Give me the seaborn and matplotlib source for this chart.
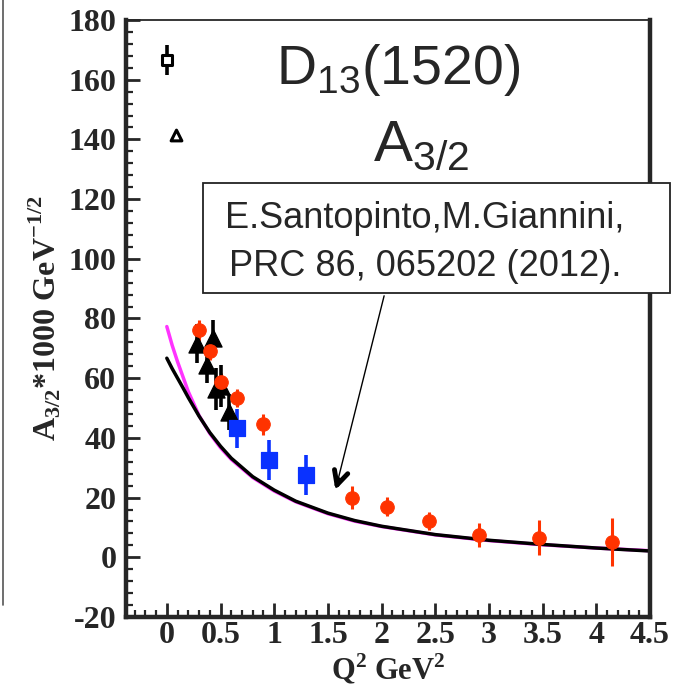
import numpy as np
import pandas as pd
import seaborn as sns
import matplotlib
matplotlib.use("Agg")
import matplotlib.pyplot as plt
from matplotlib.patches import Rectangle
from matplotlib.lines import Line2D
from matplotlib.ticker import MultipleLocator, FuncFormatter

# data
# red circles
red_q2 = [0.30, 0.40, 0.50, 0.65, 0.90, 1.72, 2.05, 2.44, 2.91, 3.47, 4.15]
red_a = [76.0, 69.0, 58.8, 53.3, 44.5, 20.0, 17.0, 12.3, 7.5, 6.6, 5.2]
red_err = [3.5, 3.0, 3.0, 3.0, 3.5, 3.9, 3.1, 3.0, 4.1, 5.9, 8.0]
# blue squares
blue_q2 = [0.65, 0.95, 1.30]
blue_a = [43.2, 32.6, 27.6]
blue_err = [6.5, 6.7, 6.7]
# black triangles
tri_q2 = [0.28, 0.37, 0.43, 0.46, 0.50, 0.58]
tri_a = [71.5, 64.5, 73.5, 56.5, 57.5, 48.8]
tri_err = [6.5, 6.0, 6.0, 7.0, 7.0, 6.0]
# open square (photon point) and open triangle
sq_q2 = [0.0]
sq_a = [166.6]
sq_err = [5.0]
otri_q2 = [0.09]
otri_a = [141.5]
# model curves
curve_q2 = [0, 0.05, 0.1, 0.15, 0.2, 0.3, 0.4, 0.5, 0.6, 0.8, 1.0, 1.2, 1.5,
            1.75, 2.0, 2.5, 3.0, 3.5, 4.0, 4.5]
black_a = [66.7, 63.2, 60.0, 56.8, 53.5, 47.3, 41.8, 37.2, 33.2, 27.0, 22.5,
           18.8, 14.8, 12.3, 10.4, 7.6, 5.7, 4.3, 3.1, 2.1]
magenta_a = [77.3, 71.0, 65.5, 60.5, 55.5, 47.5, 41.5, 36.7, 32.8, 26.7, 22.2,
             18.6, 14.6, 12.1, 10.3, 7.5, 5.6, 4.2, 3.1, 2.2]

sns.set_style("ticks")
plt.rcParams['font.family'] = ['Liberation Serif', 'DejaVu Serif']
plt.rcParams['mathtext.fontset'] = 'custom'
plt.rcParams['mathtext.rm'] = 'Liberation Serif:bold'
plt.rcParams['mathtext.sf'] = 'Liberation Sans'
plt.rcParams['axes.unicode_minus'] = False

RED = '#ff3300'
BLUE = '#0a32ff'

fig = plt.figure(figsize=(6.79, 6.85), dpi=100)
ax = fig.add_axes([0.1856, 0.0993, 0.7717, 0.8715])

curves = pd.DataFrame({'q2': curve_q2, 'black': black_a, 'magenta': magenta_a})
sns.lineplot(data=curves, x='q2', y='magenta', color='#ff33ff', lw=2.5, ax=ax)
sns.lineplot(data=curves, x='q2', y='black', color='black', lw=2.5, ax=ax)

# error bars
ax.errorbar(red_q2, red_a, yerr=red_err, fmt='none', ecolor=RED, elinewidth=2.2, capsize=0)
ax.errorbar(blue_q2, blue_a, yerr=blue_err, fmt='none', ecolor=BLUE, elinewidth=2.6, capsize=0)
ax.errorbar(tri_q2, tri_a, yerr=tri_err, fmt='none', ecolor='black', elinewidth=2.6, capsize=0)
ax.errorbar(sq_q2, sq_a, yerr=sq_err, fmt='none', ecolor='black', elinewidth=2.6, capsize=0)

sns.scatterplot(x=tri_q2, y=tri_a, marker='^', s=150, color='black', edgecolor='black', ax=ax, zorder=4)
sns.scatterplot(x=blue_q2, y=blue_a, marker='s', s=120, color=BLUE, edgecolor=BLUE, ax=ax, zorder=4)
sns.scatterplot(x=red_q2, y=red_a, marker='o', s=95, color=RED, edgecolor=RED, ax=ax, zorder=5)
sns.scatterplot(x=sq_q2, y=sq_a, marker='s', s=45, color='white', edgecolor='black', linewidth=2.2, ax=ax, zorder=4)
sns.scatterplot(x=otri_q2, y=otri_a, marker='^', s=60, color='white', edgecolor='black', linewidth=2.2, ax=ax, zorder=4)

ax.set_xlim(-0.38, 4.5)
ax.set_ylim(-20, 180)
ax.xaxis.set_major_locator(MultipleLocator(0.5))
ax.xaxis.set_minor_locator(MultipleLocator(0.1))
ax.yaxis.set_major_locator(MultipleLocator(20))
ax.yaxis.set_minor_locator(MultipleLocator(4))
ax.xaxis.set_major_formatter(FuncFormatter(lambda v, p: ('%g' % v)))
ax.tick_params(which='major', direction='in', length=10, width=2, labelsize=23)
ax.tick_params(axis='x', which='major', pad=3)
ax.tick_params(axis='y', which='major', pad=7)
ax.tick_params(which='minor', direction='in', length=5, width=1.6)
for t in ax.get_xticklabels() + ax.get_yticklabels():
    t.set_fontweight('bold')

for side in ['left', 'bottom', 'right']:
    ax.spines[side].set_linewidth(3.2)
ax.spines['top'].set_linewidth(1.3)

ax.set_xlabel(r'Q$^{2}$ GeV$^{2}$', fontsize=22, fontweight='bold', labelpad=1)
ax.set_ylabel(r'A$_{3/2}$*1000 GeV$^{-1/2}$', fontsize=23, fontweight='bold', labelpad=4)

# titles
fig.text(0.586, 1 - 70 / 685, r'D$_\mathsf{13}$(1520)', fontsize=40, family='Liberation Sans',
         ha='center', va='center')
fig.text(0.62, 1 - 145 / 685, r'A$_\mathsf{3/2}$', fontsize=42, family='Liberation Sans',
         ha='center', va='center')

# reference box
fig.add_artist(Rectangle((203 / 679, 1 - 293 / 685), 467 / 679, 110 / 685,
                         transform=fig.transFigure, fill=True, facecolor='white',
                         edgecolor='#222222', lw=1.3, zorder=6))
fig.text(425 / 679, 1 - 218 / 685, 'E.Santopinto,M.Giannini,', fontsize=26,
         family='Liberation Sans', ha='center', va='center', zorder=7)
fig.text(425 / 679, 1 - 266 / 685, 'PRC 86, 065202 (2012).', fontsize=26,
         family='Liberation Sans', ha='center', va='center', zorder=7)

# arrow from box to curve
ax.annotate('', xy=(1.57, 22.5), xytext=(2.03, 88.5),
            arrowprops=dict(arrowstyle='-', lw=1.0, color='black'))
ax.annotate('', xy=(1.57, 22.5), xytext=(1.60, 26.0),
            arrowprops=dict(arrowstyle='->,head_length=1.0,head_width=0.5', lw=3.5,
                            color='black', shrinkA=0, shrinkB=0))

# edge of neighbouring panel
fig.add_artist(Line2D([3 / 679, 3 / 679], [1 - 605 / 685, 1.0], color='#555555', lw=1.2))

fig.savefig('out.png', dpi=100)
